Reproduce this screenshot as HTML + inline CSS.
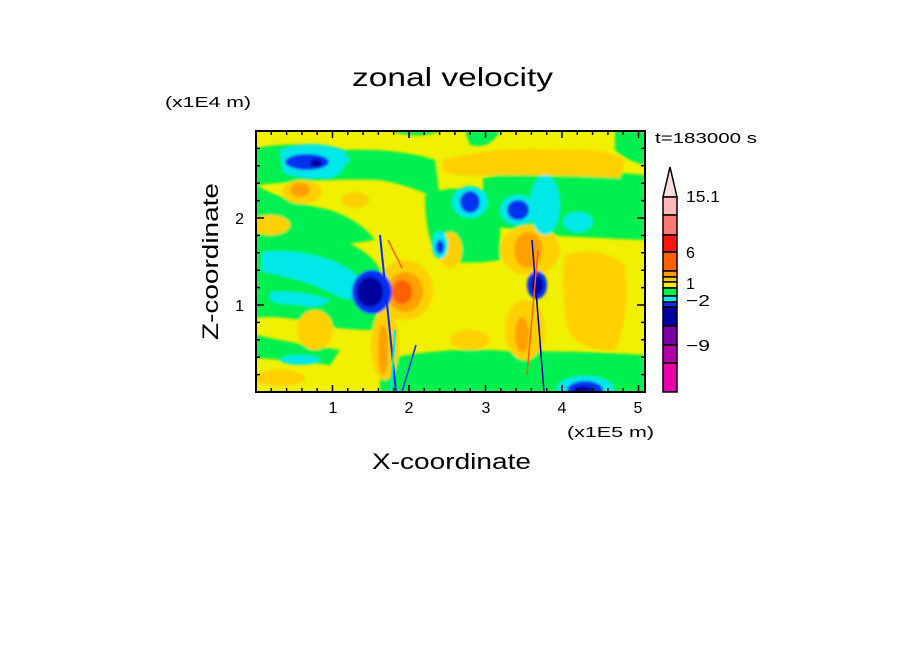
<!DOCTYPE html>
<html><head><style>html,body{margin:0;padding:0;background:#fff}svg{display:block}text{font-family:"Liberation Sans",sans-serif;fill:#000}</style></head>
<body>
<svg width="904" height="654" viewBox="0 0 904 654" xmlns="http://www.w3.org/2000/svg">
<defs><clipPath id="c"><rect x="256" y="131" width="389" height="261"/></clipPath>
<filter id="b"><feGaussianBlur stdDeviation="1.2"/></filter></defs>
<text x="352" y="86" font-size="26" textLength="201" lengthAdjust="spacingAndGlyphs">zonal velocity</text>
<text x="165" y="107" font-size="15" textLength="86" lengthAdjust="spacingAndGlyphs">(x1E4 m)</text>
<text x="655" y="143" font-size="15" textLength="102" lengthAdjust="spacingAndGlyphs">t=183000 s</text>
<g clip-path="url(#c)">
<rect x="256" y="131" width="389" height="261" fill="#f0f000"/>
<g filter="url(#b)">
<path d="M256 148 Q300 140 340 150 Q400 148 435 160 L440 200 Q410 185 380 180 Q330 178 256 185Z" fill="#00f050"/>
<path d="M256 230 Q300 235 340 240 Q370 250 380 270 L375 330 Q330 330 300 320 Q270 315 256 318Z" fill="#00f050"/>
<path d="M256 185 Q280 200 330 210 Q360 220 375 240 L340 245 Q300 240 256 230Z" fill="#00f050"/>
<path d="M425 195 Q460 180 500 200 L500 260 Q470 265 440 260 Q425 240 425 195Z" fill="#00f050"/>
<path d="M483 178 Q540 165 645 175 L645 240 Q600 238 560 236 Q520 230 483 225Z" fill="#00f050"/>
<path d="M380 360 Q450 345 520 352 Q560 350 645 355 L645 392 L380 392Z" fill="#00f050"/>
<path d="M256 335 Q300 345 340 350 L330 365 Q290 360 256 358Z" fill="#00f050"/>
<path d="M615 131 L645 131 L645 165 Q625 160 615 150Z" fill="#00f050"/>
<path d="M390 131 Q420 140 440 131Z" fill="#00f050"/>
<path d="M465 131 L500 131 Q490 150 470 145Z" fill="#00f050"/>
<path d="M443 160 Q500 145 560 150 Q610 148 625 160 L620 178 Q560 175 500 175 Q460 178 443 172Z" fill="#ffd000"/>
<ellipse cx="302" cy="192" rx="20" ry="12" fill="#ffd000"/>
<ellipse cx="300" cy="190" rx="10" ry="7" fill="#ffa000"/>
<ellipse cx="355" cy="200" rx="14" ry="8" fill="#ffd000"/>
<ellipse cx="270" cy="225" rx="20" ry="10" fill="#ffd000"/>
<path d="M565 255 Q600 245 625 265 Q630 320 615 350 Q580 352 568 330 Q560 290 565 255Z" fill="#ffd000"/>
<ellipse cx="530" cy="250" rx="30" ry="25" fill="#ffd000"/>
<ellipse cx="528" cy="250" rx="14" ry="18" fill="#ffa000"/>
<ellipse cx="525" cy="330" rx="20" ry="30" fill="#ffd000"/>
<ellipse cx="522" cy="335" rx="7" ry="18" fill="#ffa000"/>
<ellipse cx="405" cy="290" rx="28" ry="30" fill="#ffd000"/>
<ellipse cx="405" cy="292" rx="18" ry="20" fill="#ffa000"/>
<ellipse cx="402" cy="292" rx="10" ry="12" fill="#ff6000"/>
<ellipse cx="385" cy="345" rx="14" ry="35" fill="#ffd000"/>
<ellipse cx="383" cy="350" rx="5" ry="25" fill="#ffa000"/>
<ellipse cx="315" cy="330" rx="18" ry="20" fill="#ffd000"/>
<ellipse cx="450" cy="250" rx="12" ry="18" fill="#ffd000"/>
<ellipse cx="280" cy="378" rx="25" ry="8" fill="#ffd000"/>
<ellipse cx="470" cy="340" rx="20" ry="10" fill="#ffd000"/>
<path d="M280 150 Q310 138 345 150 Q350 172 330 178 Q300 180 283 172Z" fill="#00e8e8"/>
<ellipse cx="307" cy="162" rx="22" ry="8" fill="#0030f0"/>
<ellipse cx="316" cy="163" rx="6" ry="4" fill="#0000a0"/>
<path d="M262 252 Q300 248 335 262 Q360 272 372 295 Q350 305 330 292 Q300 278 262 272Z" fill="#00e8e8"/>
<path d="M270 292 Q300 290 330 300 Q320 310 300 305 Q280 305 270 300Z" fill="#00e8e8"/>
<ellipse cx="372" cy="292" rx="20" ry="22" fill="#0030f0"/>
<ellipse cx="370" cy="292" rx="13" ry="15" fill="#0000a0"/>
<ellipse cx="470" cy="202" rx="18" ry="16" fill="#00e8e8"/>
<ellipse cx="470" cy="202" rx="10" ry="11" fill="#0030f0"/>
<ellipse cx="518" cy="210" rx="18" ry="15" fill="#00e8e8"/>
<ellipse cx="518" cy="210" rx="11" ry="10" fill="#0030f0"/>
<ellipse cx="545" cy="205" rx="15" ry="30" fill="#00e8e8"/>
<ellipse cx="578" cy="222" rx="15" ry="10" fill="#00e8e8"/>
<ellipse cx="340" cy="160" rx="10" ry="4" fill="#00e8e8"/>
<ellipse cx="537" cy="285" rx="10" ry="14" fill="#0030f0"/>
<ellipse cx="537" cy="285" rx="6" ry="9" fill="#0000a0"/>
<ellipse cx="585" cy="388" rx="28" ry="12" fill="#00e8e8"/>
<ellipse cx="585" cy="390" rx="18" ry="9" fill="#0030f0"/>
<ellipse cx="583" cy="392" rx="10" ry="6" fill="#0000a0"/>
<ellipse cx="440" cy="245" rx="8" ry="14" fill="#00e8e8"/>
<ellipse cx="440" cy="247" rx="4" ry="7" fill="#0030f0"/>
<ellipse cx="300" cy="360" rx="20" ry="5" fill="#00e8e8"/>
</g>
<g fill="none" stroke-width="2">
<line x1="380" y1="235" x2="396" y2="392" stroke="#0030f0"/>
<line x1="395" y1="330" x2="391" y2="392" stroke="#00e8e8"/>
<line x1="388" y1="240" x2="402" y2="268" stroke="#ff6000" stroke-width="1.5"/>
<line x1="532" y1="240" x2="544" y2="392" stroke="#0000a0" stroke-width="1.5"/>
<line x1="538" y1="250" x2="527" y2="375" stroke="#ff6000" stroke-width="1.5"/>
<line x1="402" y1="392" x2="416" y2="345" stroke="#0030f0" stroke-width="1.5"/>
</g>
</g>
<rect x="256" y="131" width="389" height="261" fill="none" stroke="#000" stroke-width="2"/>
<g stroke="#000" stroke-width="1.5">
<path d="M271.3 131v4M286.6 131v4M301.9 131v4M317.2 131v4M347.8 131v4M363.1 131v4M378.4 131v4M393.7 131v4M424.3 131v4M439.6 131v4M454.9 131v4M470.2 131v4M500.8 131v4M516.1 131v4M531.4 131v4M546.7 131v4M577.3 131v4M592.6 131v4M607.9 131v4M623.2 131v4"/>
<path d="M271.3 392v-4M286.6 392v-4M301.9 392v-4M317.2 392v-4M347.8 392v-4M363.1 392v-4M378.4 392v-4M393.7 392v-4M424.3 392v-4M439.6 392v-4M454.9 392v-4M470.2 392v-4M500.8 392v-4M516.1 392v-4M531.4 392v-4M546.7 392v-4M577.3 392v-4M592.6 392v-4M607.9 392v-4M623.2 392v-4"/>
<path d="M332.5 131v7M409 131v7M485.5 131v7M562 131v7M638.5 131v7M332.5 392v-7M409 392v-7M485.5 392v-7M562 392v-7M638.5 392v-7"/>
<path d="M256 374.6h4M256 357.2h4M256 339.8h4M256 322.4h4M256 287.6h4M256 270.2h4M256 252.8h4M256 235.4h4M256 200.6h4M256 183.2h4M256 165.8h4M256 148.4h4"/>
<path d="M645 374.6h-4M645 357.2h-4M645 339.8h-4M645 322.4h-4M645 287.6h-4M645 270.2h-4M645 252.8h-4M645 235.4h-4M645 200.6h-4M645 183.2h-4M645 165.8h-4M645 148.4h-4"/>
<path d="M256 305h8M256 218h8M645 305h-8M645 218h-8"/>
</g>
<g font-size="16" text-anchor="middle">
<text x="333" y="413">1</text><text x="409" y="413">2</text><text x="486" y="413">3</text><text x="562" y="413">4</text><text x="638" y="413">5</text>
</g>
<text x="244" y="311" font-size="16" text-anchor="end">1</text>
<text x="244" y="224" font-size="16" text-anchor="end">2</text>
<text x="567" y="437" font-size="15" textLength="87" lengthAdjust="spacingAndGlyphs">(x1E5 m)</text>
<text x="372" y="469" font-size="22" textLength="159" lengthAdjust="spacingAndGlyphs">X-coordinate</text>
<text transform="translate(218 340) rotate(-90)" font-size="22" textLength="157" lengthAdjust="spacingAndGlyphs">Z-coordinate</text>
<g stroke="#000" stroke-width="1.5">
<path d="M670 167 L663 197 L677 197Z" fill="#ffdcdc"/>
<rect x="663" y="197" width="14" height="18" fill="#ffb8b8"/>
<rect x="663" y="215" width="14" height="20" fill="#ff7878"/>
<rect x="663" y="235" width="14" height="17" fill="#ff1414"/>
<rect x="663" y="252" width="14" height="19" fill="#ff6000"/>
<rect x="663" y="271" width="14" height="6" fill="#ffa000"/>
<rect x="663" y="277" width="14" height="5" fill="#ffd000"/>
<rect x="663" y="282" width="14" height="6" fill="#f0f000"/>
<rect x="663" y="288" width="14" height="8" fill="#00f050"/>
<rect x="663" y="296" width="14" height="6" fill="#00e8e8"/>
<rect x="663" y="302" width="14" height="5" fill="#0030f0"/>
<rect x="663" y="307" width="14" height="19" fill="#0000a0"/>
<rect x="663" y="326" width="14" height="19" fill="#7800a8"/>
<rect x="663" y="345" width="14" height="18" fill="#b000a8"/>
<rect x="663" y="363" width="14" height="29" fill="#e800a8"/>
</g>
<g font-size="16">
<text x="686" y="202" textLength="34" lengthAdjust="spacingAndGlyphs">15.1</text>
<text x="686" y="258">6</text>
<text x="686" y="289">1</text>
<text x="686" y="306" textLength="24" lengthAdjust="spacingAndGlyphs">−2</text>
<text x="686" y="351" textLength="24" lengthAdjust="spacingAndGlyphs">−9</text>
</g>
</svg>
</body></html>
